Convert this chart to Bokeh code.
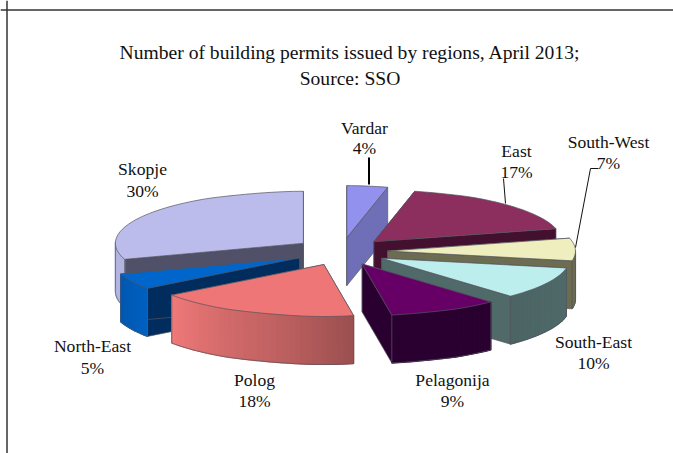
import math
import numpy as np
from bokeh.plotting import figure
from bokeh.models import Span
from bokeh.embed import file_html
from bokeh.resources import INLINE
from bokeh.core.properties import value

regions = ["Vardar", "East", "South-West", "South-East", "Pelagonija", "Polog", "North-East", "Skopje"]
shares = [4, 17, 7, 10, 9, 18, 5, 30]

title_lines = ["Number of building permits issued by regions, April 2013;", "Source: SSO"]

top_colors = ["#9292ee", "#8c2e5e", "#eeeebe", "#bdeeee", "#660066", "#ee7676", "#0066cc", "#bcbcec"]
radial_colors = ["#6f6fb8", "#43102f", "#6c6c50", "#506a6a", "#2a0030", "#a85656", "#002c5e", "#505068"]
arc_start = ["#6f6fb8", "#43102f", "#6c6c50", "#506a6a", "#2a0030", "#9c5050", "#0060c0", "#b4b4e0"]
arc_end = ["#6f6fb8", "#43102f", "#6c6c50", "#4c6464", "#2a0030", "#ef7878", "#0058b0", "#b4b4e0"]
edge = "#55555f"

# projection of the pie
CX, CY, RX, RY, EX, EY, DEPTH = 340.5, 251.0, 188.0, 52.0, 46.5, 14.0, 48.0

p = figure(width=673, height=453, x_range=(0, 673), y_range=(453, 0), output_backend="svg",
           toolbar_location=None, min_border=0, outline_line_color=None, background_fill_color="white")
p.grid.visible = False
p.xaxis.visible = False
p.yaxis.visible = False

p.add_layout(Span(location=6.5, dimension="height", line_color="#333333", line_width=1.5))
p.add_layout(Span(location=9.5, dimension="width", line_color="#333333", line_width=1.5))


def hexmix(a, b, t):
    ca = [int(a[i:i + 2], 16) for i in (1, 3, 5)]
    cb = [int(b[i:i + 2], 16) for i in (1, 3, 5)]
    return "#%02x%02x%02x" % tuple(round(x + (y - x) * t) for x, y in zip(ca, cb))


bounds = np.cumsum([0] + shares) * 3.6
slices = []
for i in range(len(shares)):
    a0, a1 = bounds[i], bounds[i + 1]
    mid = math.radians((a0 + a1) / 2)
    ax = CX + EX * math.sin(mid)
    ay = CY - EY * math.cos(mid)
    ang = np.radians(np.linspace(a0, a1, max(4, int(a1 - a0) // 2 + 2)))
    s = np.sin(ang)
    # slight foreshortening close to the vertical axis of the view
    ox = ax + RX * s * np.minimum(1.0, 0.75 + 0.5 * np.abs(s))
    oy = ay - RY * np.cos(ang)
    slices.append((i, ax, ay, ang, ox, oy))

# painter's order, back to front
order = [regions.index(n) for n in ["Skopje", "Vardar", "East", "South-West", "South-East", "North-East", "Polog", "Pelagonija"]]

for i in order:
    _, ax, ay, ang, ox, oy = slices[i]
    # radial walls
    for ex, ey in ((ox[0], oy[0]), (ox[-1], oy[-1])):
        p.patch([ax, ex, ex, ax], [ay, ey, ey + DEPTH, ay + DEPTH], fill_color=radial_colors[i],
                line_color=edge, line_width=0.7)
    # outer wall, only the part that faces the viewer
    n = len(ang)
    front = [j for j in range(n - 1) if math.cos((ang[j] + ang[j + 1]) / 2) < 0.02]
    for j in front:
        t = (j - front[0]) / max(1, len(front) - 1)
        col = hexmix(arc_start[i], arc_end[i], t)
        p.patch([ox[j], ox[j + 1], ox[j + 1], ox[j]],
                [oy[j], oy[j + 1], oy[j + 1] + DEPTH, oy[j] + DEPTH],
                fill_color=col, line_color=col, line_width=1.2)
    if front:
        idx = front + [front[-1] + 1]
        p.line(ox[idx], oy[idx] + DEPTH, line_color=edge, line_width=0.7)
        p.line([ox[idx[0]]] * 2, [oy[idx[0]], oy[idx[0]] + DEPTH], line_color=edge, line_width=0.7)
        p.line([ox[idx[-1]]] * 2, [oy[idx[-1]], oy[idx[-1]] + DEPTH], line_color=edge, line_width=0.7)
    # top face
    p.patch([ax] + list(ox), [ay] + list(oy), fill_color=top_colors[i], line_color=edge, line_width=0.7)

# leader lines
p.line([368.5, 368.5], [157, 184], line_color="#000000", line_width=2)
p.line([503, 505], [178, 203], line_color="#111111", line_width=1)
p.line([598, 590, 575], [168, 168, 247], line_color="#111111", line_width=1)

font = value("Liberation Serif")
p.text(x=[349.5, 349.5], y=[52, 78], text=title_lines, text_font=font, text_font_size="19.6px",
       text_align="center", text_baseline="middle", text_color="#111111")

label_x = [364, 516, 608, 593, 452, 254, 92, 142]
name_y = [127, 150, 141, 341, 379, 379, 345, 168]
pct_y = [147, 171, 162, 362, 400, 400, 367, 190]
p.text(x=label_x, y=name_y, text=regions, text_font=font, text_font_size="17.6px",
       text_align="center", text_baseline="middle", text_color="#111111")
p.text(x=label_x, y=pct_y, text=[f"{s}%" for s in shares], text_font=font, text_font_size="17.6px",
       text_align="center", text_baseline="middle", text_color="#111111")

open("out.html", "w").write(file_html(p, INLINE))
